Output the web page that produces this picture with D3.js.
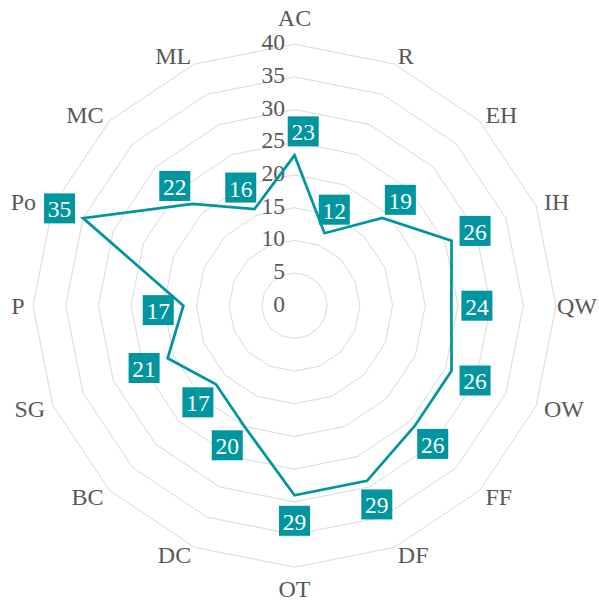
<!DOCTYPE html>
<html>
<head>
<meta charset="utf-8">
<script src="https://cdn.jsdelivr.net/npm/d3@7.9.0/dist/d3.min.js"></script>
<style>
  html, body { margin: 0; padding: 0; background: #fff; }
  svg { display: block; }
  text { font-family: "Liberation Serif", "Times New Roman", serif; }
</style>
</head>
<body>
<svg id="chart" width="599" height="601"></svg>
<script>
const categories = ["AC", "R", "EH", "IH", "QW", "OW", "FF", "DF", "OT", "DC", "BC", "SG", "P", "Po", "MC", "ML"];
const values = [23, 12, 19, 26, 24, 26, 26, 29, 29, 20, 17, 21, 17, 35, 22, 16];
const ticks = [0, 5, 10, 15, 20, 25, 30, 35, 40];

const width = 599;
const cx = 294.5, cy = 305.7, radius = 261.5;
const teal = "#00959f";
const grey = "#595959";

const svg = d3.select("#chart");
const g = svg.append("g").attr("transform", `translate(${cx},${cy})`);

const r = d3.scaleLinear().domain([0, 40]).range([0, radius]);
const angle = d3.scaleLinear().domain([0, categories.length]).range([0, 2 * Math.PI]);

// point in chart coords (origin at centre)
const pos = (i, rad) => [rad * Math.sin(angle(i)), -rad * Math.cos(angle(i))];

// grid rings
const ring = d3.lineRadial()
  .angle((d, i) => angle(i))
  .radius(d => r(d))
  .curve(d3.curveLinearClosed);

g.selectAll(".ring")
  .data(ticks.filter(t => t > 0))
  .join("path")
  .attr("class", "ring")
  .attr("d", t => ring(categories.map(() => t)))
  .attr("fill", "none")
  .attr("stroke", "#d9d9d9")
  .attr("stroke-width", 1);

// tick labels
const tickText = g.selectAll(".tick")
  .data(ticks)
  .join("text")
  .attr("class", "tick")
  .attr("x", -9.5)
  .attr("y", t => -r(t) - 2)
  .attr("text-anchor", "end")
  .attr("dominant-baseline", "central")
  .attr("font-size", 23.5)
  .attr("fill", grey)
  .text(t => t);

// data line
g.append("path")
  .attr("d", ring(values))
  .attr("fill", "none")
  .attr("stroke", teal)
  .attr("stroke-width", 2.75)
  .attr("stroke-linejoin", "miter");

// value labels: push outward, rotate a little if the box hits something
const pts = values.map((v, i) => pos(i, r(v)));
const tickBoxes = tickText.nodes().map(n => n.getBBox());
const placed = [];

function overlap(a, b) {
  const w = Math.min(a.x + a.width, b.x + b.width) - Math.max(a.x, b.x);
  const h = Math.min(a.y + a.height, b.y + b.height) - Math.max(a.y, b.y);
  return w > 0 && h > 0 ? w * h : 0;
}

function lineHits(box) {
  let hits = 0;
  for (let i = 0; i < pts.length; i++) {
    const p = pts[i], q = pts[(i + 1) % pts.length];
    for (let s = 0; s <= 40; s++) {
      const x = p[0] + (q[0] - p[0]) * s / 40;
      const y = p[1] + (q[1] - p[1]) * s / 40;
      if (x > box.x - 2 && x < box.x + box.width + 2 && y > box.y - 2 && y < box.y + box.height + 2) hits++;
    }
  }
  return hits;
}

const labels = g.selectAll(".val")
  .data(values)
  .join("g")
  .attr("class", "val");

labels.append("rect").attr("fill", teal);
labels.append("text")
  .attr("text-anchor", "middle")
  .attr("dominant-baseline", "central")
  .attr("font-size", 23.5)
  .attr("fill", "#fff")
  .text(d => d);

labels.each(function (v, i) {
  const el = d3.select(this);
  const tw = el.select("text").node().getComputedTextLength();
  const bw = tw + 7.5, bh = 30;
  const a0 = angle(i);
  let best = null;
  [0, 10, -10, 20, -20, 30, -30, 40, -40].forEach(dd => {
    const a = a0 + dd * Math.PI / 180;
    const x = pts[i][0] + 25.5 * Math.sin(a);
    const y = pts[i][1] - 25.5 * Math.cos(a);
    const box = { x: x - bw / 2, y: y - bh / 2, width: bw, height: bh };
    let cost = 100 * lineHits(box) + Math.abs(dd) * 0.2;
    tickBoxes.forEach(b => cost += overlap(box, b));
    placed.forEach(b => cost += overlap(box, b));
    if (!best || cost < best.cost) best = { cost, x, y, box };
  });
  placed.push(best.box);
  el.select("rect")
    .attr("x", best.box.x).attr("y", best.box.y)
    .attr("width", bw).attr("height", bh);
  el.select("text").attr("x", best.x).attr("y", best.y + 1);
});

// category labels, anchored just outside the outer ring
const nameR = 270;
g.selectAll(".cat")
  .data(categories)
  .join("text")
  .attr("class", "cat")
  .attr("font-size", 24)
  .attr("fill", grey)
  .text(d => d)
  .each(function (d, i) {
    let [x, y] = pos(i, nameR);
    const s = Math.sin(angle(i)), c = Math.cos(angle(i));
    const el = d3.select(this);
    const tw = this.getComputedTextLength();
    if (Math.abs(s) < 0.01) {
      el.attr("text-anchor", "middle").attr("x", x)
        .attr("y", c > 0 ? y - 10 : y + 21);
      return;
    }
    el.attr("text-anchor", s > 0 ? "start" : "end")
      .attr("dominant-baseline", "central")
      .attr("y", y);
    // keep inside the picture
    if (s > 0) x = Math.min(x, width - cx - tw - 2);
    else x = Math.max(x, -cx + tw + 2);
    // step away from any value label it touches
    const box = () => ({ x: s > 0 ? x : x - tw, y: y - 12, width: tw, height: 24 });
    placed.forEach(b => {
      if (overlap(box(), b) > 0) x = s > 0 ? b.x + b.width + 8 : b.x - 8;
    });
    el.attr("x", x);
  });
</script>
</body>
</html>
